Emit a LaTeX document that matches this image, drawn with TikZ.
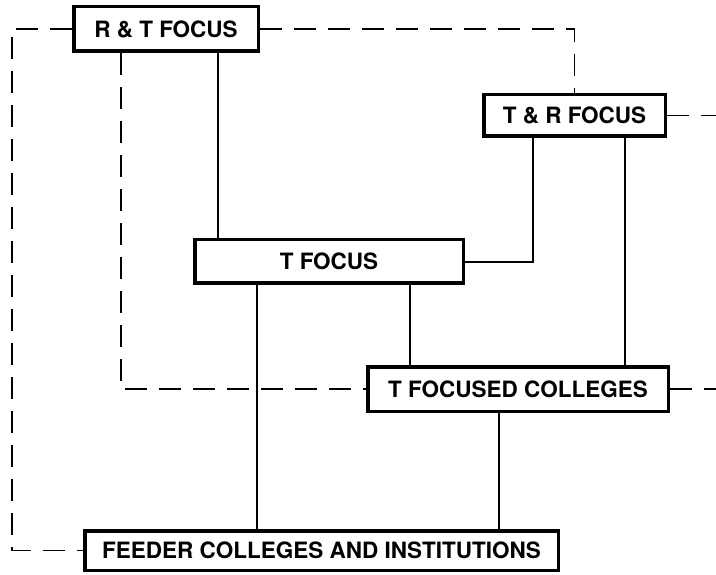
\documentclass[tikz,border=0pt]{standalone}
\usepackage{fontspec}
\setmainfont{TeX Gyre Heros}
\begin{document}
\begin{tikzpicture}[x=1pt,y=-1pt,
  box/.style={draw, line width=3.5pt, fill=white, inner sep=0pt,
    font=\fontsize{22.5}{24}\selectfont\bfseries},
  link/.style={line width=1.8pt},
  dlink/.style={line width=1.6pt, dash pattern=on 22pt off 12pt}]
\useasboundingbox (0,0) rectangle (716,575);
% nodes
\node[box, minimum width=184.5pt, minimum height=44.5pt] (RT) at (166,29) {R \& T FOCUS};
\node[box, minimum width=181.5pt, minimum height=41.5pt] (TR) at (574.5,115.5) {T \& R FOCUS};
\node[box, minimum width=268.5pt, minimum height=43.5pt] (TF) at (329,261.5) {T FOCUS};
\node[box, minimum width=300.5pt, minimum height=44.5pt] (TFC) at (518,389) {T FOCUSED COLLEGES};
\node[box, minimum width=473.5pt, minimum height=39.5pt] (FD) at (321.5,550.5) {FEEDER COLLEGES AND INSTITUTIONS};
\coordinate (tl) at (12,29);
\coordinate (bl) at (12,550.5);
\coordinate (rTR) at (716,115.5);
\coordinate (rTFC) at (716,389);
% solid connectors
\begin{scope}[on background layer/.style={}]
\draw[link] (218,0 |- RT.south) -- (218,0 |- TF.north);
\draw[link] (533,0 |- TR.south) -- (533,262) -- (TF.east |- 533,262);
\draw[link] (625,0 |- TR.south) -- (625,0 |- TFC.north);
\draw[link] (257,0 |- TF.south) -- (257,0 |- FD.north);
\draw[link] (410,0 |- TF.south) -- (410,0 |- TFC.north);
\draw[link] (499,0 |- TFC.south) -- (499,0 |- FD.north);
% dashed connectors
\draw[dlink] (RT.west) -- (tl) -- (bl) -- (FD.west);
\draw[dlink] (RT.east) -| (TR.north);
\draw[dlink] (TR.east) -- (rTR);
\draw[dlink] (121,0 |- RT.south) -- (121,0 |- TFC.west) -- (TFC.west);
\draw[dlink] (TFC.east) -- (rTFC);
\end{scope}
\end{tikzpicture}
\end{document}
